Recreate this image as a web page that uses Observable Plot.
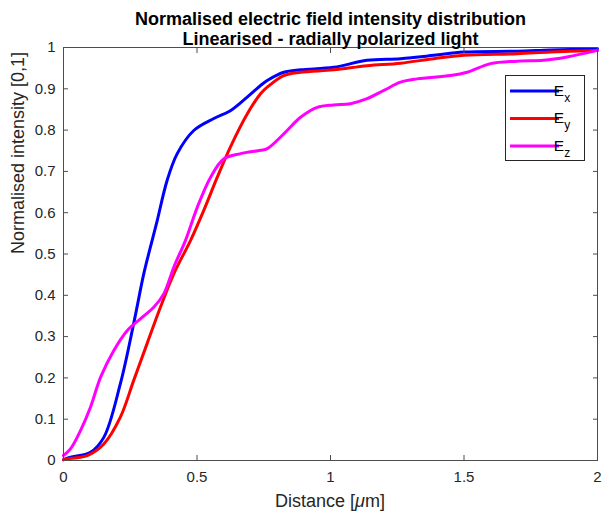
<!DOCTYPE html>
<html>
<head>
<meta charset="utf-8">
<script src="https://cdn.jsdelivr.net/npm/d3@7"></script>
<script src="https://cdn.jsdelivr.net/npm/@observablehq/plot@0.6"></script>
<style>
  html, body { margin: 0; padding: 0; background: #fff; }
  #chart { width: 605px; height: 519px; }
</style>
</head>
<body>
<div id="chart"></div>
<script>
const titleLines = ["Normalised electric field intensity distribution", "Linearised - radially polarized light"];
const xLabelParts = ["Distance [", "\u03bc", "m]"];
const yLabel = "Normalised intensity [0,1]";
const xTicks = [0, 0.5, 1, 1.5, 2];
const yTicks = [0, 0.1, 0.2, 0.3, 0.4, 0.5, 0.6, 0.7, 0.8, 0.9, 1];

const exX = [0, 0.026, 0.101, 0.151, 0.213, 0.263, 0.301, 0.332, 0.351, 0.388, 0.426, 0.488, 0.563, 0.625, 0.688, 0.738, 0.763, 0.825, 0.888, 1.012, 1.137, 1.262, 1.387, 1.499, 1.699, 1.824, 2.0];
const exY = [0.002, 0.008, 0.020, 0.056, 0.186, 0.332, 0.453, 0.533, 0.581, 0.678, 0.743, 0.799, 0.828, 0.847, 0.880, 0.908, 0.920, 0.940, 0.946, 0.952, 0.969, 0.973, 0.981, 0.989, 0.991, 0.994, 0.997];

const eyX = [0, 0.014, 0.089, 0.151, 0.213, 0.263, 0.313, 0.363, 0.413, 0.476, 0.525, 0.576, 0.625, 0.688, 0.738, 0.763, 0.825, 0.888, 1.012, 1.137, 1.262, 1.387, 1.499, 1.699, 1.824, 2.0];
const eyY = [0.002, 0.004, 0.012, 0.040, 0.105, 0.194, 0.283, 0.371, 0.452, 0.533, 0.605, 0.686, 0.759, 0.839, 0.888, 0.904, 0.932, 0.940, 0.946, 0.956, 0.962, 0.973, 0.981, 0.985, 0.989, 0.993];

const ezX = [0, 0.026, 0.064, 0.101, 0.139, 0.188, 0.239, 0.288, 0.338, 0.376, 0.413, 0.457, 0.501, 0.551, 0.600, 0.663, 0.738, 0.763, 0.825, 0.888, 0.950, 1.012, 1.075, 1.137, 1.200, 1.262, 1.324, 1.449, 1.512, 1.599, 1.699, 1.798, 1.886, 2.0];
const ezY = [0.012, 0.028, 0.073, 0.129, 0.202, 0.266, 0.315, 0.343, 0.371, 0.404, 0.468, 0.533, 0.613, 0.686, 0.730, 0.743, 0.751, 0.755, 0.791, 0.831, 0.855, 0.861, 0.864, 0.876, 0.896, 0.916, 0.924, 0.932, 0.940, 0.961, 0.967, 0.969, 0.977, 0.993];

const seriesNames = ["x", "y", "z"];
const seriesColors = ["#0000ff", "#ff0000", "#ff00ff"];

const toRows = (xs, ys, s) => xs.map((x, i) => ({x, y: ys[i], s}));
const rows = [
  ...toRows(exX, exY, "x"),
  ...toRows(eyX, eyY, "y"),
  ...toRows(ezX, ezY, "z")
];

const axisColor = "#262626";
const font = "Liberation Sans, Arial, Helvetica, sans-serif";

const chart = Plot.plot({
  width: 605,
  height: 519,
  marginTop: 47,
  marginBottom: 59,
  marginLeft: 63,
  marginRight: 8,
  style: {fontFamily: font, background: "#fff", color: axisColor},
  x: {domain: [0, 2], axis: null},
  y: {domain: [0, 1], axis: null},
  color: {domain: seriesNames, range: seriesColors},
  marks: [
    Plot.line(rows, {x: "x", y: "y", z: "s", stroke: "s", strokeWidth: 3, curve: "catmull-rom"}),
    Plot.axisX(xTicks, {anchor: "bottom", tickSize: -5, tickFormat: () => "", stroke: "#4d4d4d", label: null}),
    Plot.axisX(xTicks, {anchor: "top", tickSize: -5, tickFormat: () => "", stroke: "#4d4d4d", label: null}),
    Plot.axisY(yTicks, {anchor: "left", tickSize: -5, tickFormat: () => "", stroke: "#4d4d4d", label: null}),
    Plot.axisY(yTicks, {anchor: "right", tickSize: -5, tickFormat: () => "", stroke: "#4d4d4d", label: null}),
    Plot.axisX(xTicks, {anchor: "bottom", tickSize: 0, tickPadding: 11, fontSize: 15, fill: "#262626", tickFormat: d => String(d), label: null}),
    Plot.axisY(yTicks, {anchor: "left", tickSize: 0, tickPadding: 8, fontSize: 15, fill: "#262626", tickFormat: d => String(+d.toFixed(1)), label: null}),
    Plot.frame({stroke: "#4d4d4d", strokeWidth: 1}),
    Plot.text([yLabel], {text: d => d, frameAnchor: "left", rotate: -90, dx: -45, fontSize: 18, fill: "#262626"}),
    Plot.text([titleLines[0]], {text: d => d, frameAnchor: "top", dy: -35.5, fontSize: 18, fontWeight: "bold", fill: "#000"}),
    Plot.text([titleLines[1]], {text: d => d, frameAnchor: "top", dy: -15.5, fontSize: 18, fontWeight: "bold", fill: "#000"})
  ]
});

const svg = d3.select(chart);

// X axis label with italic mu (TeX style)
const xl = svg.append("text").attr("x", (63 + 597) / 2).attr("y", 507)
  .attr("text-anchor", "middle").attr("font-family", font).attr("font-size", 18).attr("fill", "#262626");
xl.append("tspan").text(xLabelParts[0]);
xl.append("tspan").attr("font-style", "italic").text(xLabelParts[1]);
xl.append("tspan").text(xLabelParts[2]);

// Legend box (MATLAB style)
const lg = svg.append("g").attr("font-family", font);
lg.append("rect").attr("x", 505.5).attr("y", 75.5).attr("width", 79).attr("height", 85)
  .attr("fill", "#fff").attr("stroke", "#262626").attr("stroke-width", 1);
seriesNames.forEach((n, i) => {
  const cy = 91 + i * 27.5;
  lg.append("line").attr("x1", 510).attr("x2", 559).attr("y1", cy).attr("y2", cy)
    .attr("stroke", seriesColors[i]).attr("stroke-width", 3);
  const t = lg.append("text").attr("x", 562).attr("y", cy + 4.5).attr("font-size", 15.5).attr("fill", "#000");
  t.append("tspan").text("E");
  t.append("tspan").attr("dy", 6).attr("font-size", 12).text(n);
});

document.getElementById("chart").appendChild(chart);
</script>
</body>
</html>
